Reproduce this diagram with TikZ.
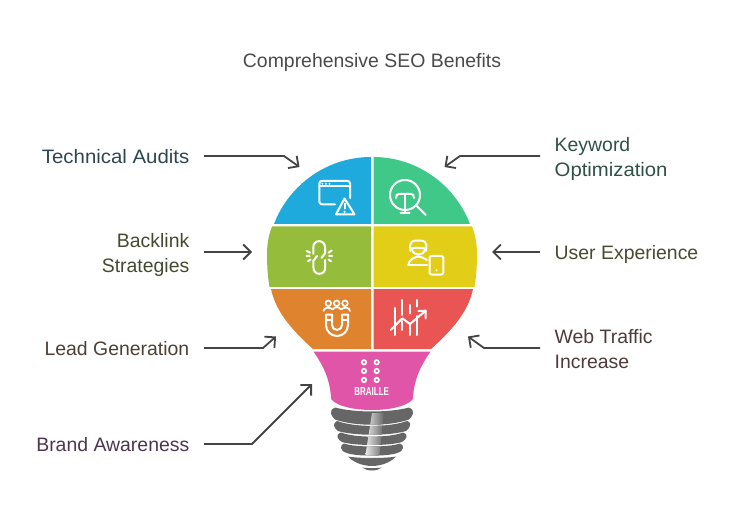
\documentclass[tikz,border=0pt]{standalone}
\usepackage{fontspec}
\usepackage{graphicx}
\setmainfont{Liberation Sans}
\usetikzlibrary{arrows.meta}
\definecolor{cblue}{HTML}{1EAADC}
\definecolor{cgreen}{HTML}{40C888}
\definecolor{colive}{HTML}{95BC3A}
\definecolor{cyellow}{HTML}{E2CD17}
\definecolor{corange}{HTML}{E0832E}
\definecolor{cred}{HTML}{E85552}
\definecolor{cpink}{HTML}{E055A8}
\definecolor{cthread}{HTML}{666666}
\definecolor{cline}{HTML}{444444}
\definecolor{ttitle}{HTML}{4A4A4A}
\definecolor{tblue}{HTML}{2F4650}
\definecolor{tgreen}{HTML}{2F5046}
\definecolor{tolive}{HTML}{434A30}
\definecolor{tyellow}{HTML}{4A4A30}
\definecolor{torange}{HTML}{4D4033}
\definecolor{tred}{HTML}{4D3B3A}
\definecolor{tpink}{HTML}{4D3550}
\newcommand{\ls}{\rule[-4.4bp]{0pt}{24bp}}
\tikzset{
 lab/.style={inner sep=0pt,font=\fontsize{19.5}{24}\selectfont},
 labl/.style={lab,anchor=west,align=left},
 labr/.style={lab,anchor=east,align=right},
 conn/.style={draw=cline,line width=1.8bp,-{Straight Barb[length=7.5bp,width=15bp]}},
 ico/.style={draw=white,line width=2bp,line cap=round,line join=round},
}
\def\threadspath{
 (335,407.5) .. controls (355,412.8) and (389,412.8) .. (409,407.5) .. controls (412,409) and (414,411) .. (413,413.5) .. controls (412,416) and (411,418) .. (409,419.5) .. controls (389,426.5) and (355,426.5) .. (335,419.5) .. controls (333,418) and (332,416) .. (331,413.5) .. controls (330,411) and (332,409) .. (335,407.5) -- cycle
 (337,421) .. controls (355,427.5) and (389,427.5) .. (407,421) .. controls (410,422) and (411,424) .. (410,425.5) .. controls (409,428) and (408,430) .. (406,431) .. controls (389,436) and (355,436) .. (338,431) .. controls (336,430) and (335,428) .. (334,425.5) .. controls (333.5,424) and (335,422) .. (337,421) -- cycle
 (341,432.5) .. controls (355,438) and (389,438) .. (403,432.5) .. controls (406,433) and (407,435) .. (406.5,437) .. controls (406,439) and (404,441) .. (402,442) .. controls (389,446) and (355,446) .. (342,442) .. controls (340,441) and (338,439) .. (337.5,437) .. controls (337,435) and (338,433) .. (341,432.5) -- cycle
 (344,443.5) .. controls (355,447.5) and (389,447.5) .. (400,443.5) .. controls (402,444) and (403.5,446) .. (403,448) .. controls (402.5,450) and (401,452) .. (397,453) .. controls (389,456.5) and (355,456.5) .. (347,453) .. controls (343,452) and (341.5,450) .. (341,448) .. controls (340.5,446) and (342,444) .. (344,443.5) -- cycle
 (348,456.5) .. controls (358,458.5) and (386,458.5) .. (396,456.5) .. controls (392,461) and (383,466) .. (372,466) .. controls (361,466) and (352,461) .. (348,456.5) -- cycle
 (362,467.5) .. controls (367,468.3) and (377,468.3) .. (382,467.5) .. controls (379,469.5) and (376,470.5) .. (372,470.5) .. controls (368,470.5) and (365,469.5) .. (362,467.5) -- cycle
}
\begin{document}
\begin{tikzpicture}[x=1bp,y=-1bp]
\useasboundingbox (0,0) rectangle (732,519);
\node[lab,text=ttitle] (title) at (372,60) {\ls Comprehensive SEO Benefits};
% segments
\fill[cblue] (371,157) .. controls (328.5,157) and (289.6,183.4) .. (274,224) -- (371,224) -- cycle;
\fill[cgreen] (373.5,157) .. controls (415.5,157) and (454.4,183.4) .. (470,224) -- (373.5,224) -- cycle;
\fill[colive] (272,226.5) .. controls (269,234) and (267,243) .. (267,254) .. controls (267,268) and (268,278) .. (269.5,287) -- (371,287) -- (371,226.5) -- cycle;
\fill[cyellow] (472,226.5) .. controls (475,234) and (477,243) .. (477,254) .. controls (477,268) and (476,278) .. (474.5,287) -- (373.5,287) -- (373.5,226.5) -- cycle;
\fill[corange] (271,289) .. controls (275,307) and (285,324) .. (313,349) -- (371,349) -- (371,289) -- cycle;
\fill[cred] (473,289) .. controls (469,307) and (459,324) .. (431,349) -- (373.5,349) -- (373.5,289) -- cycle;
\fill[cpink] (313.5,351.5) .. controls (322,364) and (330,378) .. (331,398) .. controls (331,402) and (345,410) .. (372,410) .. controls (399,410) and (413,402) .. (413,398) .. controls (414,378) and (422,364) .. (430.5,351.5) -- cycle;
% base
\fill[cthread] \threadspath;
\begin{scope}
 \clip \threadspath;
 \shade[left color=white!92!black,right color=cthread] (372,413) -- (384,413) -- (379,458) -- (365,458) -- cycle;
\end{scope}
% browser warning icon
\draw[ico] (335,204.3) -- (322,204.3) arc[start angle=90,end angle=180,radius=2.7] -- (319.3,183.5) arc[start angle=180,end angle=270,radius=2.7] -- (347.3,180.8) arc[start angle=270,end angle=360,radius=2.7] -- (350,198);
\draw[ico] (319.3,186.5) -- (350,186.5);
\fill[white] (322.3,183.7) circle[radius=1.1] (326,183.7) circle[radius=1.1] (329.5,183.7) circle[radius=1.1];
\draw[ico] (344.5,198.5) -- (336,214.3) -- (354.5,214.3) -- cycle;
\draw[ico] (344.5,203.5) -- (344.5,208.5);
\fill[white] (344.5,211.8) circle[radius=1.2];
% magnifier icon
\draw[ico] (405,195) circle[radius=15];
\draw[ico] (396,198) .. controls (396,195) and (397,194) .. (399,194) -- (411,194) .. controls (413,194) and (414,195) .. (414,198);
\draw[ico] (405,194) -- (405,213.3);
\draw[ico] (400.5,213.5) -- (409.5,213.5);
\draw[ico] (416.7,206) -- (425.7,215);
% link icon
\draw[ico] (313.3,254) -- (313.3,247) arc[start angle=180,end angle=360,radius=5.85] -- (325.2,253) -- (321.5,258);
\draw[ico] (325.2,260) -- (325.2,268) arc[start angle=0,end angle=180,radius=5.85] -- (313.3,261) -- (317,256);
\draw[ico] (306.7,251) -- (310,252.7) (306.5,256) -- (309.5,256) (308,261.3) -- (310.5,259.5);
\draw[ico] (331.7,250.5) -- (328.5,252.7) (332,256) -- (329,256) (331,261.3) -- (328.5,259.5);
% user icon
\draw[ico] (410.5,251) .. controls (408.5,240) and (414,240.5) .. (418.3,240.5) .. controls (423,240.5) and (428,240) .. (426,251);
\draw[ico] (411.5,248.5) .. controls (415,247.5) and (422,247.5) .. (425,248.5);
\draw[ico] (412,249) .. controls (413,256.5) and (424,256.5) .. (425,249);
\draw[ico] (408.3,265.3) .. controls (409,259) and (414,257.5) .. (418.3,256.5) .. controls (422,257.5) and (425,258) .. (427,260);
\draw[ico] (408.3,265.3) -- (427,265.3);
\draw[ico,rounded corners=2bp] (429.5,256) rectangle (443.3,274.5);
\fill[white] (436.4,270.3) circle[radius=1.2];
% magnet icon
\foreach \p in {328.3,336.7,345}{
 \draw[ico,line width=1.7bp] (\p,303.3) circle[radius=2.8];
}
\draw[ico,line width=1.7bp] (323.5,311) .. controls (323.5,307.5) and (330,306.5) .. (332.5,309.5) .. controls (335,306.5) and (339,306.5) .. (341,309.5) .. controls (344,306.5) and (350,307.5) .. (350,311);
\draw[ico] (326,314.5) -- (326,325) arc[start angle=180,end angle=0,radius=11] -- (348,314.5) -- (342,314.5) -- (342,325) arc[start angle=0,end angle=180,radius=5] -- (332,314.5) -- cycle;
\draw[ico] (326,320) -- (332,320) (342,320) -- (348,320);
% chart icon
\draw[ico] (395,308) -- (395,335);
\draw[ico] (402.3,300) -- (402.3,315) (402.3,321) -- (402.3,330);
\draw[ico] (410,305) -- (410,313.5) (410,324) -- (410,335);
\draw[ico] (417.3,300) -- (417.3,306.5) (417.3,316) -- (417.3,335);
\draw[ico] (390.7,330) -- (402.3,318.3) -- (410,324) -- (425.7,310.7);
\draw[ico] (418.3,311) -- (425.7,310.7) -- (425.7,318.3);
% braille icon
\foreach \x in {364,376.7}{
 \foreach \y in {362.3,371,380}{
  \draw[white,line width=1.7bp] (\x,\y) circle[radius=2.2];
 }
}
\node[inner sep=0pt,text=white,font=\fontsize{11.5}{11.5}\selectfont\bfseries] (braille) at (371.7,391.5) {\scalebox{.7}[1]{BRAILLE}};
% labels
\node[labr,text=tblue] (ta) at (189.5,156) {\ls\scalebox{1.05}[1]{Technical Audits}};
\node[labl,text=tgreen] (ko) at (554.5,156) {\ls Keyword\\\ls\scalebox{1.045}[1]{Optimization}};
\node[labr,text=tolive] (bs) at (189.5,252) {\ls Backlink\\\ls Strategies};
\node[labl,text=tyellow] (ue) at (554.5,252) {\ls User Experience};
\node[labr,text=torange] (lg) at (189.5,348) {\ls Lead Generation};
\node[labl,text=tred] (wt) at (554.5,348) {\ls Web Traffic\\\ls Increase};
\node[labr,text=tpink] (ba) at (189.5,444) {\ls Brand Awareness};
% connector ends
\coordinate (ta1) at (284,156); \coordinate (ta2) at (299.5,167);
\coordinate (ko1) at (460,156); \coordinate (ko2) at (444.5,167);
\coordinate (bs2) at (252,252);
\coordinate (ue2) at (492,252);
\coordinate (lg1) at (263,348); \coordinate (lg2) at (276,336.5);
\coordinate (wt1) at (484,348); \coordinate (wt2) at (468,336.5);
\coordinate (ba1) at (252,444); \coordinate (ba2) at (312,384);
\draw[conn,shorten <=14.5bp] (ta.east) -- (ta1) -- (ta2);
\draw[conn,shorten <=14.5bp] (ko.west) -- (ko1) -- (ko2);
\draw[conn,shorten <=14.5bp] (bs.east) -- (bs2);
\draw[conn,shorten <=14.5bp] (ue.west) -- (ue2);
\draw[conn,shorten <=14.5bp] (lg.east) -- (lg1) -- (lg2);
\draw[conn,shorten <=14.5bp] (wt.west) -- (wt1) -- (wt2);
\draw[conn,shorten <=14.5bp] (ba.east) -- (ba1) -- (ba2);
\end{tikzpicture}
\end{document}
